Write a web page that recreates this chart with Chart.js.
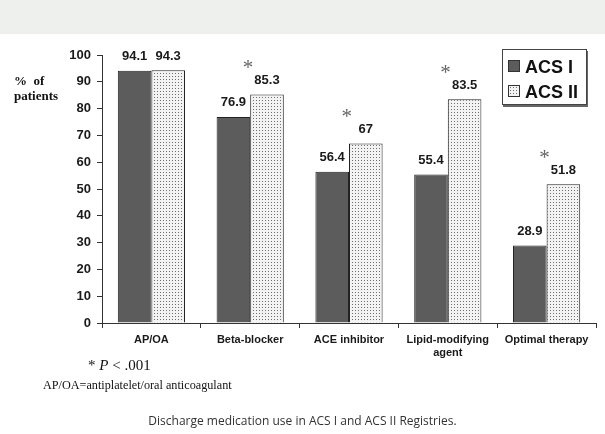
<!DOCTYPE html>
<html>
<head>
<meta charset="utf-8">
<script src="https://cdn.jsdelivr.net/npm/chart.js@4.4.1/dist/chart.umd.min.js"></script>
<style>
  html, body { margin: 0; padding: 0; background: #fff; }
  #wrap { position: relative; width: 605px; height: 434px; overflow: hidden; }
  #band { position: absolute; left: 0; top: 0; width: 605px; height: 34px; background: #eef0ee; }
  #chart { position: absolute; left: 0; top: 0; }
  .txt { position: absolute; white-space: nowrap; color: #111; }
  #ylab { left: 14px; top: 73px; font: bold 13px "Liberation Serif", serif; line-height: 15px; }
  #legend { position: absolute; left: 502px; top: 49px; width: 83px; height: 54px;
            border: 1px solid #444; background: #fff; box-shadow: 1px 2px 0 #666; }
  .lrow { position: absolute; left: 5px; height: 20px; font: bold 18px "Liberation Sans", Arial, sans-serif;
          color: #111; line-height: 20px; }
  .sw { display: inline-block; width: 10px; height: 10px; border: 1px solid #333; margin-right: 5px; vertical-align: 1px; }
  #note1 { left: 88px; top: 357px; font: 15px "Liberation Serif", serif; }
  #note2 { left: 43px; top: 378px; font: 12.2px "Liberation Serif", serif; }
  #caption { left: 0; width: 605px; top: 412px; text-align: center; font: 12px "Open Sans", sans-serif; color: #333; }
</style>
</head>
<body>
<div id="wrap">
  <div id="band"></div>
  <canvas id="chart" width="605" height="434"></canvas>
  <div id="ylab" class="txt">%&nbsp; of<br>patients</div>
  <div id="legend">
    <div class="lrow" style="top:7px"><span class="sw" id="sw1"></span>ACS I</div>
    <div class="lrow" style="top:32px"><span class="sw" id="sw2"></span>ACS II</div>
  </div>
  <div id="note1" class="txt">* <i>P</i> &lt; .001</div>
  <div id="note2" class="txt">AP/OA=antiplatelet/oral anticoagulant</div>
  <div id="caption" class="txt">Discharge medication use in ACS I and ACS II Registries.</div>
</div>
<script>
// datos
const categories = ['AP/OA', 'Beta-blocker', 'ACE inhibitor', ['Lipid-modifying', 'agent'], 'Optimal therapy'];
const seriesNames = ['ACS I', 'ACS II'];
const acs1 = [94.1, 76.9, 56.4, 55.4, 28.9];
const acs2 = [94.3, 85.3, 67, 83.5, 51.8];
const significant = [false, true, true, true, true]; // * P < .001
const yTicks = [0, 10, 20, 30, 40, 50, 60, 70, 80, 90, 100];

// trama punteada para ACS II
function dotPattern() {
  const c = document.createElement('canvas');
  c.width = 3; c.height = 3;
  const g = c.getContext('2d');
  g.fillStyle = '#f3f3f3';
  g.fillRect(0, 0, 3, 3);
  g.fillStyle = '#6e6e6e';
  g.fillRect(1, 1, 1, 1);
  return c;
}
const patCanvas = dotPattern();
const ctx = document.getElementById('chart').getContext('2d');
const pattern = ctx.createPattern(patCanvas, 'repeat');

document.getElementById('sw1').style.background = '#5c5c5c';
document.getElementById('sw2').style.background = 'url(' + patCanvas.toDataURL() + ')';

// etiquetas de valor y asteriscos
const valueLabels = {
  id: 'valueLabels',
  afterDatasetsDraw(chart) {
    const c = chart.ctx;
    c.save();
    chart.data.datasets.forEach((ds, di) => {
      const meta = chart.getDatasetMeta(di);
      meta.data.forEach((bar, i) => {
        c.fillStyle = '#1a1a1a';
        c.font = 'bold 13px "Liberation Sans", Arial, sans-serif';
        c.textAlign = 'center';
        c.textBaseline = 'middle';
        c.fillText(String(ds.data[i]), bar.x, bar.y - 14);
        if (di === 1 && significant[i]) {
          c.fillStyle = '#666';
          c.font = '21px "Liberation Serif", serif';
          c.textBaseline = 'alphabetic';
          c.fillText('*', bar.x - 19, bar.y - 29 + 9);
        }
      });
    });
    c.restore();
  }
};

new Chart(ctx, {
  type: 'bar',
  data: {
    labels: categories,
    datasets: [
      {
        label: seriesNames[0],
        data: acs1,
        backgroundColor: '#5c5c5c',
        borderColor: '#222',
        borderWidth: 1,
        borderSkipped: 'bottom',
        categoryPercentage: 0.68,
        barPercentage: 1.0
      },
      {
        label: seriesNames[1],
        data: acs2,
        backgroundColor: pattern,
        borderColor: '#222',
        borderWidth: 1,
        borderSkipped: 'bottom',
        categoryPercentage: 0.68,
        barPercentage: 1.0
      }
    ]
  },
  options: {
    responsive: false,
    animation: false,
    layout: { padding: { left: 0, right: 9, top: 55, bottom: 71 } },
    plugins: {
      legend: { display: false },
      tooltip: { enabled: false }
    },
    scales: {
      x: {
        offset: true,
        grid: { display: true, offset: true, drawOnChartArea: false, tickLength: 5, color: '#333' },
        border: { display: true, color: '#333', width: 1 },
        ticks: {
          color: '#1a1a1a',
          padding: 5,
          maxRotation: 0,
          autoSkip: false,
          font: { family: '"Liberation Sans", Arial, sans-serif', size: 11, weight: 'bold', lineHeight: 1.2 }
        },
        afterFit(s) { s.height = 40; }
      },
      y: {
        min: 0,
        max: 100,
        afterBuildTicks(s) { s.ticks = yTicks.map(v => ({ value: v })); },
        grid: { display: true, drawOnChartArea: false, tickLength: 5, color: '#333' },
        border: { display: true, color: '#333', width: 1 },
        ticks: {
          color: '#1a1a1a',
          padding: 6,
          font: { family: '"Liberation Sans", Arial, sans-serif', size: 13, weight: 'bold' }
        },
        afterFit(s) { s.width = 102; }
      }
    }
  },
  plugins: [valueLabels]
});
</script>
</body>
</html>
